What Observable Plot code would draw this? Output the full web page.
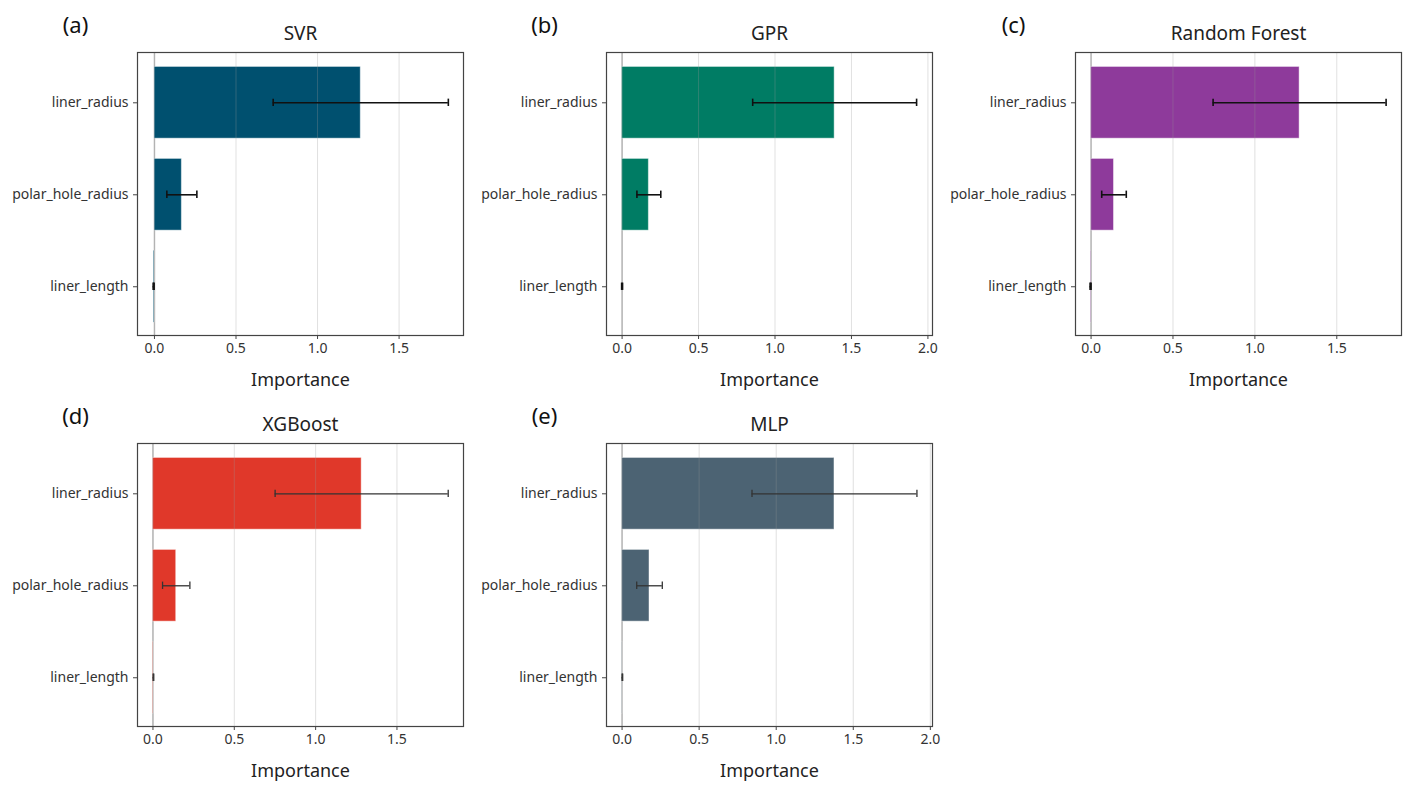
<!DOCTYPE html>
<html>
<head>
<meta charset="utf-8">
<script src="https://cdn.jsdelivr.net/npm/d3@7"></script>
<script src="https://cdn.jsdelivr.net/npm/@observablehq/plot@0.6"></script>
<style>
  html, body { margin: 0; padding: 0; background: #fff; }
  #root { position: relative; width: 1413px; height: 791px; background: #fff; font-family: "Noto Sans", "Open Sans", sans-serif; }
  .panel { position: absolute; }
</style>
</head>
<body>
<div id="root"></div>
<script>
// ---- data ----
const features = ["liner_radius", "polar_hole_radius", "liner_length"];
const models = ["SVR", "GPR", "Random Forest", "XGBoost", "MLP"];
const panelLabels = ["(a)", "(b)", "(c)", "(d)", "(e)"];
const colors = ["#00506f", "#007c64", "#8e3a9b", "#e0382a", "#4c6373"];

const svrMean = [1.265, 0.168, -0.005];
const svrStd  = [0.537, 0.092, 0.003];
const gprMean = [1.390, 0.175, 0.000];
const gprStd  = [0.536, 0.078, 0.003];
const rfMean  = [1.273, 0.140, -0.003];
const rfStd   = [0.528, 0.075, 0.003];
const xgbMean = [1.283, 0.143, 0.003];
const xgbStd  = [0.532, 0.084, 0.002];
const mlpMean = [1.378, 0.178, 0.002];
const mlpStd  = [0.535, 0.083, 0.002];

const means = [svrMean, gprMean, rfMean, xgbMean, mlpMean];
const stds  = [svrStd, gprStd, rfStd, xgbStd, mlpStd];

const xDomains = [[-0.104, 1.895], [-0.102, 2.03], [-0.095, 1.895], [-0.095, 1.909], [-0.101, 2.014]];
const xTicks = [[0, 0.5, 1.0, 1.5], [0, 0.5, 1.0, 1.5, 2.0], [0, 0.5, 1.0, 1.5], [0, 0.5, 1.0, 1.5], [0, 0.5, 1.0, 1.5, 2.0]];
const errColors = ["#111", "#111", "#111", "#333", "#333"];
const errWidths = [1.6, 1.6, 1.6, 1.3, 1.3];

// ---- layout ----
const panelLeft = [0, 469, 938, 0, 469];
const panelTop = [0, 0, 0, 391, 391];

const root = document.getElementById("root");
const fmt = d3.format(".1f");

models.forEach((model, k) => {
  const rows = features.map((f, i) => ({feature: f, i, mean: means[k][i], std: stds[k][i]}));
  const chart = Plot.plot({
    width: 469,
    height: 391,
    marginLeft: 137,
    marginRight: 6,
    marginTop: 52,
    marginBottom: 56,
    style: {fontFamily: '"Noto Sans", "Open Sans", sans-serif', color: "#333", background: "white", overflow: "visible"},
    x: {domain: xDomains[k]},
    y: {domain: [-0.547, 2.53], reverse: true},
    marks: [
      Plot.ruleX([0], {stroke: "#bdbdbd", strokeWidth: 1.5}),
      Plot.rect(rows, {
        x1: () => 0, x2: "mean",
        y1: d => d.i - 0.39, y2: d => d.i + 0.39,
        fill: colors[k], stroke: "white", strokeOpacity: 0.45, strokeWidth: 1
      }),
      Plot.gridX({ticks: xTicks[k], stroke: "#999", strokeOpacity: 0.3, strokeWidth: 1}),
      Plot.ruleY(rows, {
        y: "i", x1: d => d.mean - d.std, x2: d => d.mean + d.std,
        stroke: errColors[k], strokeWidth: errWidths[k]
      }),
      Plot.ruleX(rows, {x: d => d.mean - d.std, y1: d => d.i - 0.04, y2: d => d.i + 0.04, stroke: errColors[k], strokeWidth: errWidths[k]}),
      Plot.ruleX(rows, {x: d => d.mean + d.std, y1: d => d.i - 0.04, y2: d => d.i + 0.04, stroke: errColors[k], strokeWidth: errWidths[k]}),
      Plot.frame({stroke: "#444", strokeWidth: 1.2}),
      Plot.axisX({ticks: xTicks[k], tickFormat: fmt, tickSize: 4, tickPadding: 4, fontSize: 14, label: null, stroke: "#444"}),
      Plot.axisY({ticks: [0, 1, 2], tickFormat: i => features[i], tickSize: 4, tickPadding: 5, fontSize: 14, label: null, stroke: "#444"}),
      Plot.text(["Importance"], {frameAnchor: "bottom", lineAnchor: "middle", dy: 45, fontSize: 18, fill: "#222", textAnchor: "middle"}),
      Plot.text([model], {frameAnchor: "top", lineAnchor: "middle", dy: -19, fontSize: 19, fill: "#222", textAnchor: "middle"}),
      Plot.text([panelLabels[k]], {frameAnchor: "top-left", lineAnchor: "middle", dx: -62, dy: -27, fontSize: 22, fill: "#111", textAnchor: "middle"})
    ]
  });
  const div = document.createElement("div");
  div.className = "panel";
  div.style.left = panelLeft[k] + "px";
  div.style.top = panelTop[k] + "px";
  div.appendChild(chart);
  root.appendChild(div);
});
</script>
</body>
</html>
